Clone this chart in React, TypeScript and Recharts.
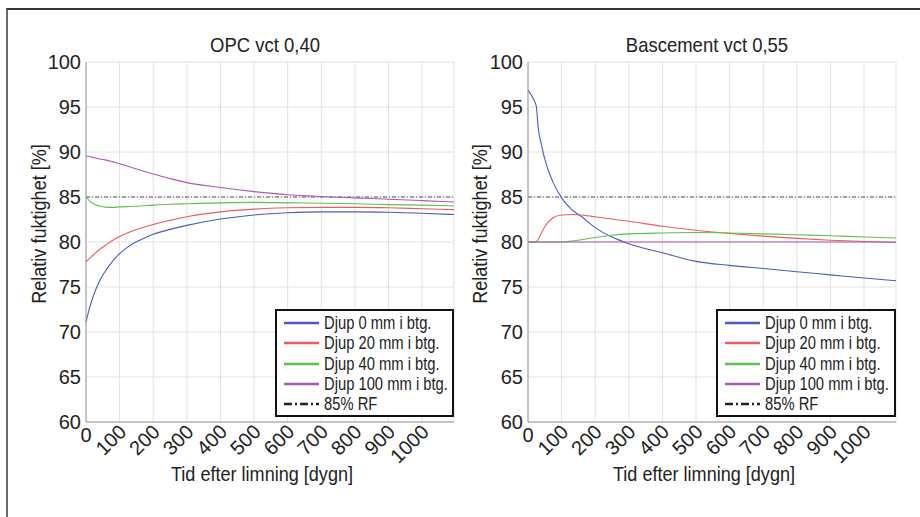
import React from 'react';
import { LineChart, Line, XAxis, YAxis, CartesianGrid, ReferenceLine } from 'recharts';

// ---------- data ----------
const xTicks = [0, 100, 200, 300, 400, 500, 600, 700, 800, 900, 1000];
const yTicks = [60, 65, 70, 75, 80, 85, 90, 95, 100];
const seriesNames = ['Djup 0 mm i btg.', 'Djup 20 mm i btg.', 'Djup 40 mm i btg.', 'Djup 100 mm i btg.'];
const rfLabel = '85% RF';
const rfLevel = 85;
const titles = ['OPC vct 0,40', 'Bascement vct 0,55'];
const xLabel = 'Tid efter limning [dygn]';
const yLabel = 'Relativ fuktighet [%]';

const opcDays = [0, 10, 20, 30, 45, 60, 80, 100, 130, 160, 200, 250, 300, 400, 500, 600, 700, 800, 900, 1000, 1095];
const opcD0 = [71.1, 72.6, 73.8, 74.8, 76.0, 76.9, 77.9, 78.7, 79.6, 80.2, 80.85, 81.4, 81.85, 82.55, 83.0, 83.25, 83.35, 83.35, 83.3, 83.2, 83.05];
const opcD20 = [77.8, 78.15, 78.5, 78.85, 79.3, 79.7, 80.2, 80.6, 81.1, 81.5, 81.95, 82.4, 82.8, 83.35, 83.65, 83.8, 83.85, 83.85, 83.8, 83.7, 83.6];
const opcD40 = [85.0, 84.6, 84.3, 84.1, 83.95, 83.87, 83.85, 83.9, 83.95, 84.0, 84.1, 84.2, 84.25, 84.35, 84.4, 84.35, 84.3, 84.25, 84.15, 84.1, 84.0];
const opcD100 = [89.55, 89.5, 89.4, 89.3, 89.2, 89.1, 88.9, 88.7, 88.35, 88.0, 87.55, 87.05, 86.6, 86.05, 85.6, 85.25, 85.05, 84.9, 84.75, 84.6, 84.45];

const basDays = [0, 10, 20, 25, 30, 40, 50, 60, 75, 100, 130, 160, 200, 250, 300, 400, 500, 600, 700, 800, 900, 1000, 1095];
const basD0 = [96.9, 96.3, 95.6, 95.0, 92.8, 90.8, 89.2, 88.0, 86.6, 84.9, 83.6, 82.8, 81.6, 80.55, 79.8, 78.8, 77.85, 77.4, 77.05, 76.7, 76.35, 76.0, 75.7];
const basD20 = [80, 80, 80, 80.05, 80.3, 81.0, 81.7, 82.2, 82.7, 83.0, 83.05, 83.0, 82.8, 82.55, 82.3, 81.75, 81.3, 80.95, 80.65, 80.4, 80.2, 80.05, 79.95];
const basD40 = [80, 80, 80, 80, 80, 80, 80, 80, 80, 80, 80.1, 80.25, 80.5, 80.75, 80.9, 81.0, 81.05, 81.0, 80.9, 80.8, 80.7, 80.55, 80.45];
const basD100 = [80, 80, 80, 80, 80, 80, 80, 80, 80, 80, 80, 80, 80, 80, 80, 80, 80, 80, 80, 80, 80, 80, 80];

const colors = ['#4a5bc4', '#f05a5a', '#5cc24a', '#b056b8'];
const keys = ['d0', 'd20', 'd40', 'd100'];

const build = (days: number[], cols: number[][]) =>
  days.map((d, i) => ({ day: d, d0: cols[0][i], d20: cols[1][i], d40: cols[2][i], d100: cols[3][i] }));

const opcData = build(opcDays, [opcD0, opcD20, opcD40, opcD100]);
const basData = build(basDays, [basD0, basD20, basD40, basD100]);

const FONT = "'Liberation Sans', Arial, sans-serif";

const XTick = (props: any) => {
  const { x, y, payload } = props;
  if (payload.value === 0) {
    return (
      <text x={x} y={y + 20} textAnchor="middle" fontSize={20} fontFamily={FONT} fill="#222">
        {payload.value}
      </text>
    );
  }
  const ax = x + 8;
  const ay = y + 11;
  return (
    <text x={ax} y={ay} textAnchor="end" fontSize={20} fontFamily={FONT} fill="#222" transform={`rotate(-45, ${ax}, ${ay})`}>
      {payload.value}
    </text>
  );
};

const Panel = ({ data, left }: { data: any[]; left: number }) => (
  <div style={{ position: 'absolute', left, top: 0, width: 461, height: 517 }}>
    <LineChart width={461} height={517} data={data} margin={{ top: 62, right: 7, bottom: 35, left: 26 }}>
      <CartesianGrid stroke="#e2e2e2" strokeWidth={1} />
      <XAxis
        dataKey="day"
        type="number"
        domain={[0, 1095]}
        ticks={xTicks}
        interval={0}
        tickLine={false}
        tickSize={0}
        tickMargin={0}
        axisLine={{ stroke: '#999' }}
        height={60}
        tick={<XTick />}
      />
      <XAxis xAxisId="top" orientation="top" type="number" domain={[0, 1095]} tick={false} tickLine={false} axisLine={{ stroke: '#999' }} height={0} />
      <YAxis
        type="number"
        domain={[60, 100]}
        ticks={yTicks}
        interval={0}
        tickLine={false}
        tickSize={0}
        tickMargin={5}
        width={60}
        axisLine={{ stroke: '#999' }}
        tick={{ fontSize: 20, fontFamily: FONT, fill: '#222' }}
      />
      <YAxis yAxisId="right" orientation="right" type="number" domain={[60, 100]} tick={false} tickLine={false} axisLine={{ stroke: '#999' }} width={0} />
      <ReferenceLine y={rfLevel} stroke="#555" strokeWidth={1} strokeDasharray="4 2 1 2" />
      {keys.map((k, i) => (
        <Line key={k} type="monotone" dataKey={k} stroke={colors[i]} strokeWidth={1.1} dot={false} isAnimationActive={false} />
      ))}
    </LineChart>
  </div>
);

const LegendBox = ({ left, width }: { left: number; width: number }) => (
  <div
    style={{
      position: 'absolute',
      left,
      top: 309,
      width: width - 4,
      height: 104,
      border: '2px solid #111',
      background: '#fff',
      fontFamily: FONT,
      fontSize: 18,
      color: '#222',
    }}
  >
    {[...seriesNames, rfLabel].map((name, i) => (
      <div key={name} style={{ position: 'absolute', left: 6, top: 2 + i * 20.25, height: 20, display: 'flex', alignItems: 'center', whiteSpace: 'nowrap' }}>
        <svg width={38} height={20} style={{ display: 'block' }}>
          {i < 4 ? (
            <line x1={1} y1={10} x2={36} y2={10} stroke={colors[i]} strokeWidth={2.5} />
          ) : (
            <line x1={1} y1={10} x2={36} y2={10} stroke="#222" strokeWidth={2.5} strokeDasharray="8 3 2 3" />
          )}
        </svg>
        <span style={{ marginLeft: 3, lineHeight: '20px', display: 'inline-block', transform: 'scaleX(0.82)', transformOrigin: 'left center' }}>{name}</span>
      </div>
    ))}
  </div>
);

const TextAt = ({ x, y, text, size, rotate, sx }: { x: number; y: number; text: string; size: number; rotate?: boolean; sx: number }) => (
  <div
    style={{
      position: 'absolute',
      left: x,
      top: y,
      transform: `translate(-50%, -50%)${rotate ? ' rotate(-90deg)' : ''} scaleX(${sx})`,
      fontFamily: FONT,
      fontSize: size,
      color: '#222',
      whiteSpace: 'nowrap',
      lineHeight: 1,
    }}
  >
    {text}
  </div>
);

export default function App() {
  return (
    <div style={{ position: 'absolute', left: 0, top: 0, width: 920, height: 517, background: '#fff', overflow: 'hidden' }}>
      <div style={{ position: 'absolute', left: 6, top: 8, width: 930, height: 530, borderLeft: '2px solid #6a6a6a', borderTop: '2px solid #333' }} />
      <Panel data={opcData} left={0} />
      <Panel data={basData} left={442} />
      <TextAt x={265} y={44} text={titles[0]} size={21} sx={0.88} />
      <TextAt x={707} y={44} text={titles[1]} size={21} sx={0.88} />
      <TextAt x={38} y={224} text={yLabel} size={21} rotate sx={0.86} />
      <TextAt x={479} y={224} text={yLabel} size={21} rotate sx={0.86} />
      <TextAt x={262} y={473} text={xLabel} size={21} sx={0.86} />
      <TextAt x={704} y={473} text={xLabel} size={21} sx={0.86} />
      <LegendBox left={275} width={179} />
      <LegendBox left={716} width={180} />
    </div>
  );
}
